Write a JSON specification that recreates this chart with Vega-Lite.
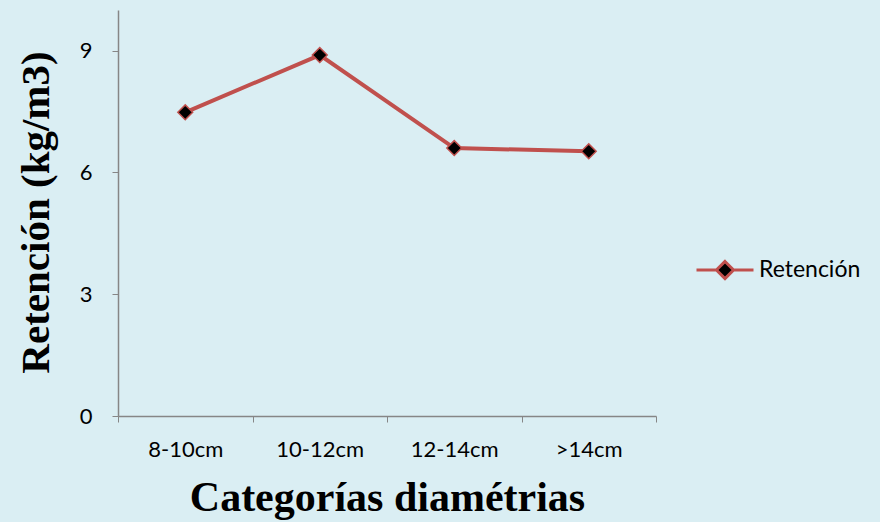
{
  "$schema": "https://vega.github.io/schema/vega-lite/v6.json",
  "autosize": "none",
  "width": 538,
  "height": 406,
  "padding": {"left": 118, "top": 10, "right": 224, "bottom": 106},
  "background": "#DAEEF3",
  "config": {
    "view": {"stroke": null},
    "font": "Lato"
  },
  "data": {
    "values": [
      {"categoria": "8-10cm", "retencion": 7.48, "serie": "Retención"},
      {"categoria": "10-12cm", "retencion": 8.89, "serie": "Retención"},
      {"categoria": "12-14cm", "retencion": 6.6, "serie": "Retención"},
      {"categoria": ">14cm", "retencion": 6.52, "serie": "Retención"}
    ]
  },
  "encoding": {
    "x": {
      "field": "categoria",
      "type": "nominal",
      "sort": null,
      "bandPosition": 0.5,
      "scale": {"type": "band", "paddingInner": 0, "paddingOuter": 0},
      "axis": {
        "title": "Categorías diamétrias",
        "titleFont": "Liberation Serif",
        "titleFontSize": 42,
        "titleFontWeight": "bold",
        "titleColor": "#000000",
        "titleBaseline": "alphabetic",
        "titleX": 269,
        "titleY": 94,
        "labelAngle": 0,
        "labelFont": "Lato",
        "labelFontSize": 22,
        "labelColor": "#000000",
        "labelPadding": 17,
        "tickBand": "extent",
        "tickSize": 6,
        "tickColor": "#868686",
        "domainColor": "#868686",
        "domainWidth": 1.5,
        "grid": false
      }
    },
    "y": {
      "field": "retencion",
      "type": "quantitative",
      "scale": {"domain": [0, 10]},
      "axis": {
        "values": [0, 3, 6, 9],
        "title": "Retención (kg/m3)",
        "titleFont": "Liberation Serif",
        "titleFontSize": 41,
        "titleFontWeight": "bold",
        "titleColor": "#000000",
        "titleBaseline": "alphabetic",
        "titleAngle": 270,
        "titleX": -70,
        "titleY": 202,
        "labelFont": "Lato",
        "labelFontSize": 22,
        "labelColor": "#000000",
        "labelPadding": 20,
        "tickSize": 6,
        "tickColor": "#868686",
        "domainColor": "#868686",
        "domainWidth": 1.5,
        "grid": false
      }
    }
  },
  "layer": [
    {
      "mark": {"type": "line", "strokeWidth": 4, "color": "#C0504D"},
      "encoding": {
        "color": {
          "field": "serie",
          "type": "nominal",
          "scale": {"range": ["#C0504D"]},
          "legend": {
            "title": null,
            "orient": "none",
            "legendX": 577,
            "legendY": 230,
            "padding": 0,
            "labelFont": "Lato",
            "labelFontSize": 23,
            "labelColor": "#000000",
            "labelOffset": 4,
            "encode": {
              "symbols": {
                "update": {
                  "shape": {"value": "M-1,0H-0.3M0.3,0H1M0,-0.3L0.3,0L0,0.3L-0.3,0Z"},
                  "size": {"value": 3249},
                  "fill": {"value": "#000000"},
                  "stroke": {"value": "#C0504D"},
                  "strokeWidth": {"value": 3},
                  "opacity": {"value": 1}
                }
              }
            }
          }
        }
      }
    },
    {
      "mark": {
        "type": "point",
        "shape": "diamond",
        "size": 220,
        "filled": true,
        "fill": "#000000",
        "stroke": "#C0504D",
        "strokeWidth": 1.5,
        "opacity": 1
      }
    }
  ]
}
